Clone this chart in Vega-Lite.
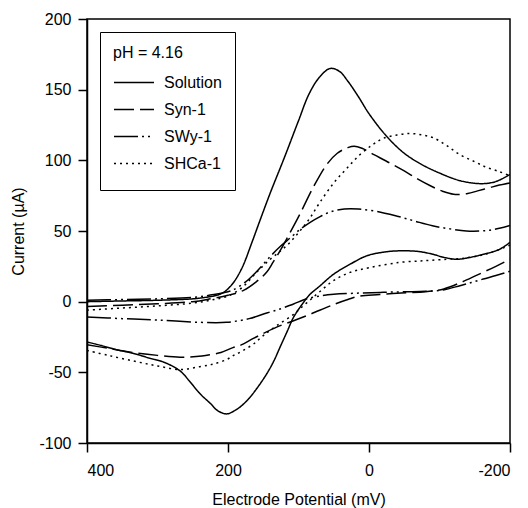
{
  "$schema": "https://vega.github.io/schema/vega-lite/v6.json",
  "width": 423,
  "height": 424,
  "autosize": {"type": "none"},
  "padding": {"left": 87, "top": 19, "right": 18, "bottom": 65},
  "background": "white",
  "config": {
    "font": "Liberation Sans",
    "view": {"stroke": "black", "strokeWidth": 1.5},
    "axis": {
      "grid": false,
      "domainColor": "black",
      "domainWidth": 1.5,
      "tickColor": "black",
      "tickWidth": 1.5,
      "tickSize": 9,
      "labelColor": "black",
      "labelFontSize": 16,
      "labelFont": "Liberation Sans",
      "titleColor": "black",
      "titleFontSize": 16,
      "titleFont": "Liberation Sans",
      "titleFontWeight": "normal"
    },
    "legend": {
      "labelFont": "Liberation Sans",
      "titleFont": "Liberation Sans"
    }
  },
  "data": {
    "values": [
      {"s": "Solution", "b": "f", "E": 400, "I": 0},
      {"s": "Solution", "b": "f", "E": 350, "I": 0.5},
      {"s": "Solution", "b": "f", "E": 300, "I": 1},
      {"s": "Solution", "b": "f", "E": 250, "I": 2},
      {"s": "Solution", "b": "f", "E": 230, "I": 3.2},
      {"s": "Solution", "b": "f", "E": 216, "I": 4.5},
      {"s": "Solution", "b": "f", "E": 205, "I": 7},
      {"s": "Solution", "b": "f", "E": 193, "I": 13},
      {"s": "Solution", "b": "f", "E": 180, "I": 24},
      {"s": "Solution", "b": "f", "E": 166, "I": 42},
      {"s": "Solution", "b": "f", "E": 155, "I": 57},
      {"s": "Solution", "b": "f", "E": 140, "I": 77},
      {"s": "Solution", "b": "f", "E": 120, "I": 102},
      {"s": "Solution", "b": "f", "E": 100, "I": 128},
      {"s": "Solution", "b": "f", "E": 85, "I": 147},
      {"s": "Solution", "b": "f", "E": 70, "I": 159},
      {"s": "Solution", "b": "f", "E": 55, "I": 165},
      {"s": "Solution", "b": "f", "E": 42, "I": 163},
      {"s": "Solution", "b": "f", "E": 30, "I": 156},
      {"s": "Solution", "b": "f", "E": 15, "I": 145},
      {"s": "Solution", "b": "f", "E": 0, "I": 133},
      {"s": "Solution", "b": "f", "E": -25, "I": 117},
      {"s": "Solution", "b": "f", "E": -50, "I": 105},
      {"s": "Solution", "b": "f", "E": -75, "I": 97},
      {"s": "Solution", "b": "f", "E": -100, "I": 91},
      {"s": "Solution", "b": "f", "E": -130, "I": 85.5},
      {"s": "Solution", "b": "f", "E": -160, "I": 83.5},
      {"s": "Solution", "b": "f", "E": -180, "I": 85},
      {"s": "Solution", "b": "f", "E": -200, "I": 90},
      {"s": "Solution", "b": "r", "E": -200, "I": 42},
      {"s": "Solution", "b": "r", "E": -185, "I": 37},
      {"s": "Solution", "b": "r", "E": -162, "I": 33.5},
      {"s": "Solution", "b": "r", "E": -140, "I": 31},
      {"s": "Solution", "b": "r", "E": -124, "I": 30},
      {"s": "Solution", "b": "r", "E": -105, "I": 31.5},
      {"s": "Solution", "b": "r", "E": -91, "I": 33.5},
      {"s": "Solution", "b": "r", "E": -70, "I": 35.5},
      {"s": "Solution", "b": "r", "E": -44, "I": 36},
      {"s": "Solution", "b": "r", "E": -20, "I": 35},
      {"s": "Solution", "b": "r", "E": 3, "I": 32.5},
      {"s": "Solution", "b": "r", "E": 25, "I": 27},
      {"s": "Solution", "b": "r", "E": 50, "I": 19.5},
      {"s": "Solution", "b": "r", "E": 70, "I": 11},
      {"s": "Solution", "b": "r", "E": 84, "I": 5},
      {"s": "Solution", "b": "r", "E": 95, "I": -2},
      {"s": "Solution", "b": "r", "E": 107, "I": -11},
      {"s": "Solution", "b": "r", "E": 116, "I": -21},
      {"s": "Solution", "b": "r", "E": 126, "I": -32},
      {"s": "Solution", "b": "r", "E": 135, "I": -42},
      {"s": "Solution", "b": "r", "E": 145, "I": -51},
      {"s": "Solution", "b": "r", "E": 160, "I": -62},
      {"s": "Solution", "b": "r", "E": 173, "I": -70},
      {"s": "Solution", "b": "r", "E": 187, "I": -76},
      {"s": "Solution", "b": "r", "E": 202, "I": -79.4},
      {"s": "Solution", "b": "r", "E": 215, "I": -77},
      {"s": "Solution", "b": "r", "E": 225, "I": -72},
      {"s": "Solution", "b": "r", "E": 240, "I": -65},
      {"s": "Solution", "b": "r", "E": 255, "I": -56},
      {"s": "Solution", "b": "r", "E": 268, "I": -49},
      {"s": "Solution", "b": "r", "E": 290, "I": -43},
      {"s": "Solution", "b": "r", "E": 311, "I": -40},
      {"s": "Solution", "b": "r", "E": 335, "I": -36.5},
      {"s": "Solution", "b": "r", "E": 358, "I": -34},
      {"s": "Solution", "b": "r", "E": 380, "I": -31},
      {"s": "Solution", "b": "r", "E": 400, "I": -28.5},

      {"s": "Syn-1", "b": "f", "E": 400, "I": -3.5},
      {"s": "Syn-1", "b": "f", "E": 350, "I": -2.5},
      {"s": "Syn-1", "b": "f", "E": 300, "I": -1.5},
      {"s": "Syn-1", "b": "f", "E": 250, "I": 0},
      {"s": "Syn-1", "b": "f", "E": 225, "I": 2},
      {"s": "Syn-1", "b": "f", "E": 200, "I": 4.5},
      {"s": "Syn-1", "b": "f", "E": 178, "I": 8},
      {"s": "Syn-1", "b": "f", "E": 160, "I": 14},
      {"s": "Syn-1", "b": "f", "E": 145, "I": 21},
      {"s": "Syn-1", "b": "f", "E": 136, "I": 28},
      {"s": "Syn-1", "b": "f", "E": 125, "I": 37},
      {"s": "Syn-1", "b": "f", "E": 114, "I": 47},
      {"s": "Syn-1", "b": "f", "E": 98, "I": 62},
      {"s": "Syn-1", "b": "f", "E": 79, "I": 81},
      {"s": "Syn-1", "b": "f", "E": 60, "I": 97},
      {"s": "Syn-1", "b": "f", "E": 45, "I": 105},
      {"s": "Syn-1", "b": "f", "E": 30, "I": 109},
      {"s": "Syn-1", "b": "f", "E": 21, "I": 110},
      {"s": "Syn-1", "b": "f", "E": 10, "I": 108.5},
      {"s": "Syn-1", "b": "f", "E": -7, "I": 104},
      {"s": "Syn-1", "b": "f", "E": -30, "I": 98},
      {"s": "Syn-1", "b": "f", "E": -50, "I": 92.5},
      {"s": "Syn-1", "b": "f", "E": -70, "I": 86.5},
      {"s": "Syn-1", "b": "f", "E": -87, "I": 82},
      {"s": "Syn-1", "b": "f", "E": -105, "I": 78},
      {"s": "Syn-1", "b": "f", "E": -120, "I": 76},
      {"s": "Syn-1", "b": "f", "E": -140, "I": 76.5},
      {"s": "Syn-1", "b": "f", "E": -154, "I": 78.4},
      {"s": "Syn-1", "b": "f", "E": -170, "I": 80.5},
      {"s": "Syn-1", "b": "f", "E": -185, "I": 82.5},
      {"s": "Syn-1", "b": "f", "E": -200, "I": 84},
      {"s": "Syn-1", "b": "r", "E": -200, "I": 30},
      {"s": "Syn-1", "b": "r", "E": -180, "I": 25},
      {"s": "Syn-1", "b": "r", "E": -154, "I": 19},
      {"s": "Syn-1", "b": "r", "E": -130, "I": 13.5},
      {"s": "Syn-1", "b": "r", "E": -106, "I": 9},
      {"s": "Syn-1", "b": "r", "E": -80, "I": 7},
      {"s": "Syn-1", "b": "r", "E": -40, "I": 6},
      {"s": "Syn-1", "b": "r", "E": -15, "I": 5},
      {"s": "Syn-1", "b": "r", "E": 13, "I": 4},
      {"s": "Syn-1", "b": "r", "E": 30, "I": 1.5},
      {"s": "Syn-1", "b": "r", "E": 50, "I": -2},
      {"s": "Syn-1", "b": "r", "E": 84, "I": -9},
      {"s": "Syn-1", "b": "r", "E": 107, "I": -13.5},
      {"s": "Syn-1", "b": "r", "E": 131, "I": -18},
      {"s": "Syn-1", "b": "r", "E": 150, "I": -22.5},
      {"s": "Syn-1", "b": "r", "E": 164, "I": -26},
      {"s": "Syn-1", "b": "r", "E": 183, "I": -31},
      {"s": "Syn-1", "b": "r", "E": 193, "I": -32.5},
      {"s": "Syn-1", "b": "r", "E": 210, "I": -36},
      {"s": "Syn-1", "b": "r", "E": 226, "I": -37.5},
      {"s": "Syn-1", "b": "r", "E": 245, "I": -38.8},
      {"s": "Syn-1", "b": "r", "E": 268, "I": -39.3},
      {"s": "Syn-1", "b": "r", "E": 300, "I": -38},
      {"s": "Syn-1", "b": "r", "E": 334, "I": -36},
      {"s": "Syn-1", "b": "r", "E": 370, "I": -33},
      {"s": "Syn-1", "b": "r", "E": 400, "I": -30.4},

      {"s": "SWy-1", "b": "f", "E": 400, "I": 1},
      {"s": "SWy-1", "b": "f", "E": 350, "I": 1.5},
      {"s": "SWy-1", "b": "f", "E": 300, "I": 2},
      {"s": "SWy-1", "b": "f", "E": 250, "I": 3},
      {"s": "SWy-1", "b": "f", "E": 220, "I": 5},
      {"s": "SWy-1", "b": "f", "E": 200, "I": 7},
      {"s": "SWy-1", "b": "f", "E": 192, "I": 8.5},
      {"s": "SWy-1", "b": "f", "E": 175, "I": 14},
      {"s": "SWy-1", "b": "f", "E": 160, "I": 21},
      {"s": "SWy-1", "b": "f", "E": 140, "I": 32},
      {"s": "SWy-1", "b": "f", "E": 126, "I": 39},
      {"s": "SWy-1", "b": "f", "E": 112, "I": 45},
      {"s": "SWy-1", "b": "f", "E": 98, "I": 51},
      {"s": "SWy-1", "b": "f", "E": 84, "I": 56},
      {"s": "SWy-1", "b": "f", "E": 70, "I": 60},
      {"s": "SWy-1", "b": "f", "E": 55, "I": 63.5},
      {"s": "SWy-1", "b": "f", "E": 35, "I": 65.5},
      {"s": "SWy-1", "b": "f", "E": 15, "I": 65.5},
      {"s": "SWy-1", "b": "f", "E": -10, "I": 64},
      {"s": "SWy-1", "b": "f", "E": -40, "I": 60.5},
      {"s": "SWy-1", "b": "f", "E": -65, "I": 57},
      {"s": "SWy-1", "b": "f", "E": -90, "I": 53.7},
      {"s": "SWy-1", "b": "f", "E": -115, "I": 51.5},
      {"s": "SWy-1", "b": "f", "E": -138, "I": 50},
      {"s": "SWy-1", "b": "f", "E": -167, "I": 50.3},
      {"s": "SWy-1", "b": "f", "E": -185, "I": 52},
      {"s": "SWy-1", "b": "f", "E": -200, "I": 54},
      {"s": "SWy-1", "b": "r", "E": -200, "I": 21.5},
      {"s": "SWy-1", "b": "r", "E": -180, "I": 18.5},
      {"s": "SWy-1", "b": "r", "E": -162, "I": 16},
      {"s": "SWy-1", "b": "r", "E": -145, "I": 13.5},
      {"s": "SWy-1", "b": "r", "E": -129, "I": 11.3},
      {"s": "SWy-1", "b": "r", "E": -105, "I": 8.3},
      {"s": "SWy-1", "b": "r", "E": -80, "I": 7.3},
      {"s": "SWy-1", "b": "r", "E": -50, "I": 7},
      {"s": "SWy-1", "b": "r", "E": -20, "I": 6.6},
      {"s": "SWy-1", "b": "r", "E": 12, "I": 6.1},
      {"s": "SWy-1", "b": "r", "E": 50, "I": 5.2},
      {"s": "SWy-1", "b": "r", "E": 70, "I": 4},
      {"s": "SWy-1", "b": "r", "E": 88, "I": 2},
      {"s": "SWy-1", "b": "r", "E": 107, "I": -1.6},
      {"s": "SWy-1", "b": "r", "E": 125, "I": -5},
      {"s": "SWy-1", "b": "r", "E": 145, "I": -8},
      {"s": "SWy-1", "b": "r", "E": 170, "I": -12},
      {"s": "SWy-1", "b": "r", "E": 202, "I": -14.6},
      {"s": "SWy-1", "b": "r", "E": 240, "I": -14.6},
      {"s": "SWy-1", "b": "r", "E": 300, "I": -13},
      {"s": "SWy-1", "b": "r", "E": 350, "I": -12},
      {"s": "SWy-1", "b": "r", "E": 400, "I": -10.8},

      {"s": "SHCa-1", "b": "f", "E": 400, "I": -6},
      {"s": "SHCa-1", "b": "f", "E": 350, "I": -4.5},
      {"s": "SHCa-1", "b": "f", "E": 300, "I": -3},
      {"s": "SHCa-1", "b": "f", "E": 250, "I": -1},
      {"s": "SHCa-1", "b": "f", "E": 220, "I": 1.5},
      {"s": "SHCa-1", "b": "f", "E": 200, "I": 4},
      {"s": "SHCa-1", "b": "f", "E": 180, "I": 10},
      {"s": "SHCa-1", "b": "f", "E": 159, "I": 21},
      {"s": "SHCa-1", "b": "f", "E": 140, "I": 30},
      {"s": "SHCa-1", "b": "f", "E": 125, "I": 36},
      {"s": "SHCa-1", "b": "f", "E": 112, "I": 42},
      {"s": "SHCa-1", "b": "f", "E": 98, "I": 50},
      {"s": "SHCa-1", "b": "f", "E": 84, "I": 59},
      {"s": "SHCa-1", "b": "f", "E": 70, "I": 70},
      {"s": "SHCa-1", "b": "f", "E": 50, "I": 84},
      {"s": "SHCa-1", "b": "f", "E": 32, "I": 94},
      {"s": "SHCa-1", "b": "f", "E": 13, "I": 104},
      {"s": "SHCa-1", "b": "f", "E": -5, "I": 111},
      {"s": "SHCa-1", "b": "f", "E": -20, "I": 115.5},
      {"s": "SHCa-1", "b": "f", "E": -40, "I": 118},
      {"s": "SHCa-1", "b": "f", "E": -58, "I": 119},
      {"s": "SHCa-1", "b": "f", "E": -75, "I": 118},
      {"s": "SHCa-1", "b": "f", "E": -91, "I": 116},
      {"s": "SHCa-1", "b": "f", "E": -110, "I": 110.5},
      {"s": "SHCa-1", "b": "f", "E": -129, "I": 104},
      {"s": "SHCa-1", "b": "f", "E": -150, "I": 99},
      {"s": "SHCa-1", "b": "f", "E": -167, "I": 95},
      {"s": "SHCa-1", "b": "f", "E": -185, "I": 92},
      {"s": "SHCa-1", "b": "f", "E": -200, "I": 89},
      {"s": "SHCa-1", "b": "r", "E": -200, "I": 40},
      {"s": "SHCa-1", "b": "r", "E": -180, "I": 36},
      {"s": "SHCa-1", "b": "r", "E": -160, "I": 33},
      {"s": "SHCa-1", "b": "r", "E": -130, "I": 30.5},
      {"s": "SHCa-1", "b": "r", "E": -110, "I": 30},
      {"s": "SHCa-1", "b": "r", "E": -80, "I": 29},
      {"s": "SHCa-1", "b": "r", "E": -44, "I": 27.8},
      {"s": "SHCa-1", "b": "r", "E": 0, "I": 24},
      {"s": "SHCa-1", "b": "r", "E": 27, "I": 20.7},
      {"s": "SHCa-1", "b": "r", "E": 50, "I": 15},
      {"s": "SHCa-1", "b": "r", "E": 70, "I": 7},
      {"s": "SHCa-1", "b": "r", "E": 84, "I": 1},
      {"s": "SHCa-1", "b": "r", "E": 98, "I": -5},
      {"s": "SHCa-1", "b": "r", "E": 107, "I": -9},
      {"s": "SHCa-1", "b": "r", "E": 131, "I": -17},
      {"s": "SHCa-1", "b": "r", "E": 150, "I": -24},
      {"s": "SHCa-1", "b": "r", "E": 164, "I": -30},
      {"s": "SHCa-1", "b": "r", "E": 180, "I": -35},
      {"s": "SHCa-1", "b": "r", "E": 192, "I": -38},
      {"s": "SHCa-1", "b": "r", "E": 202, "I": -41},
      {"s": "SHCa-1", "b": "r", "E": 220, "I": -44},
      {"s": "SHCa-1", "b": "r", "E": 240, "I": -46},
      {"s": "SHCa-1", "b": "r", "E": 268, "I": -48},
      {"s": "SHCa-1", "b": "r", "E": 300, "I": -45.5},
      {"s": "SHCa-1", "b": "r", "E": 334, "I": -42},
      {"s": "SHCa-1", "b": "r", "E": 370, "I": -38},
      {"s": "SHCa-1", "b": "r", "E": 400, "I": -34.5}
    ]
  },
  "mark": {"type": "line", "color": "black", "strokeWidth": 1.5, "interpolate": "catmull-rom", "clip": true},
  "encoding": {
    "x": {
      "field": "E",
      "type": "quantitative",
      "scale": {"domain": [-200, 400], "reverse": true, "nice": false, "zero": false},
      "axis": {"values": [400, 200, 0, -200], "labelExpr": "'' + datum.value", "title": "Electrode Potential (mV)", "labelPadding": 10, "titlePadding": 13}
    },
    "y": {
      "field": "I",
      "type": "quantitative",
      "scale": {"domain": [-100, 200], "nice": false, "zero": false},
      "axis": {"values": [-100, -50, 0, 50, 100, 150, 200], "labelExpr": "'' + datum.value", "title": "Current (µA)", "labelPadding": 7, "titlePadding": 12}
    },
    "strokeDash": {
      "field": "s",
      "type": "nominal",
      "scale": {
        "domain": ["Solution", "Syn-1", "SWy-1", "SHCa-1"],
        "range": [[1, 0], [20, 6], [24, 4, 2, 4, 2, 4], [2, 4]]
      },
      "legend": {
        "title": "pH = 4.16",
        "orient": "none",
        "legendX": 13,
        "legendY": 13,
        "strokeColor": "black",
        "fillColor": "white",
        "padding": 13,
        "symbolType": "stroke",
        "symbolSize": 1600,
        "symbolStrokeWidth": 1.5,
        "symbolStrokeColor": "black",
        "labelFontSize": 16,
        "labelColor": "black",
        "labelOffset": 9,
        "titleFontSize": 16,
        "titleFontWeight": "normal",
        "titleColor": "black",
        "titlePadding": 8,
        "clipHeight": 27,
        "rowPadding": 0
      }
    },
    "detail": {"field": "b", "type": "nominal"}
  }
}
